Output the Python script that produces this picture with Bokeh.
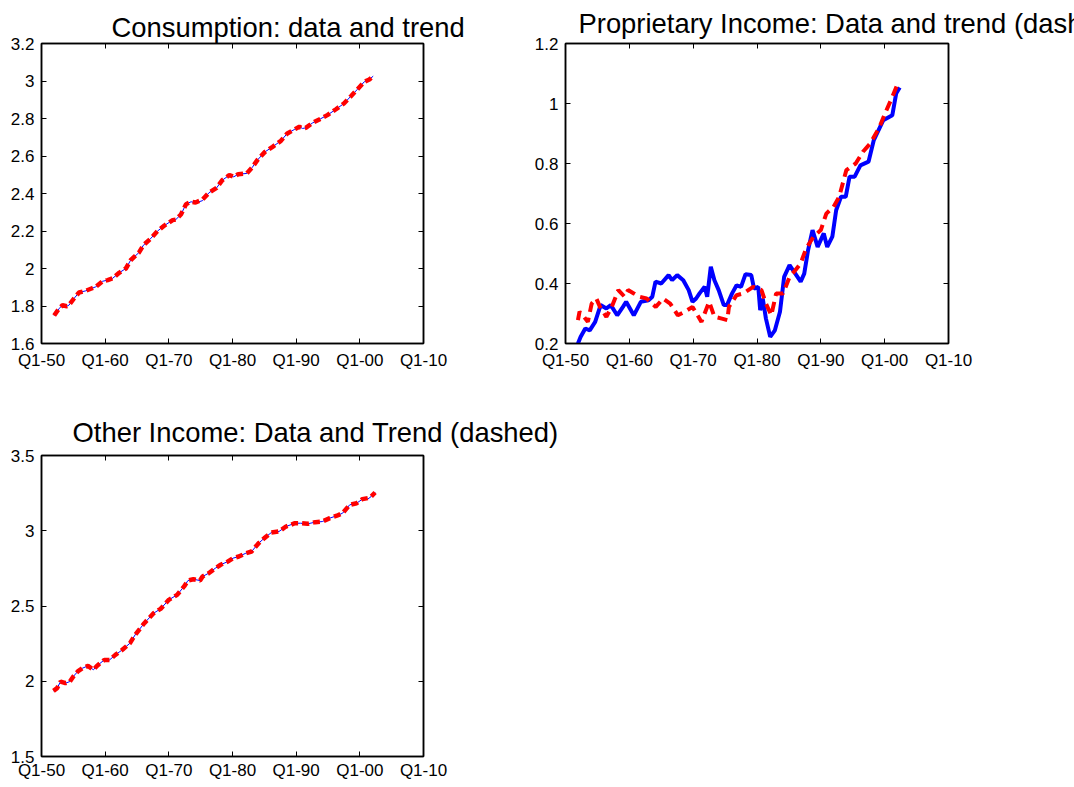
from bokeh.plotting import figure
from bokeh.layouts import row, column
from bokeh.models import FixedTicker, LinearAxis, CustomJSTickFormatter
from bokeh.embed import file_html
from bokeh.resources import INLINE

FONT = "Liberation Sans"

# ---------------- data ----------------
x_ticks = [1950, 1960, 1970, 1980, 1990, 2000, 2010]
x_tick_labels = ["Q1-50", "Q1-60", "Q1-70", "Q1-80", "Q1-90", "Q1-00", "Q1-10"]

# Consumption
cons_year = [1951.99, 1952.77, 1953.3, 1953.98, 1954.3, 1955.1, 1955.9, 1956.96, 1957.75, 1958.5,
             1959.6, 1960.4, 1961.15, 1962.2, 1963.25, 1964.0, 1965.3, 1966.0, 1967.1, 1968.2,
             1969.3, 1970.6, 1971.1, 1971.9, 1972.7, 1973.5, 1974.2, 1975.3, 1976.3, 1977.5,
             1978.4, 1979.5, 1980.2, 1980.9, 1982.25, 1983.1, 1983.9, 1985.1, 1986.3, 1987.6,
             1988.6, 1989.7, 1990.5, 1991.0, 1991.5, 1992.6, 1993.8, 1994.9, 1996.2, 1997.5,
             1998.6, 1999.6, 2000.7, 2001.5, 2002.1]
cons_data = [1.749, 1.787, 1.804, 1.799, 1.804, 1.84, 1.872, 1.881, 1.892, 1.902,
             1.932, 1.938, 1.947, 1.977, 2.0, 2.044, 2.085, 2.124, 2.158, 2.199,
             2.229, 2.258, 2.261, 2.288, 2.343, 2.356, 2.35, 2.362, 2.404, 2.43,
             2.471, 2.498, 2.489, 2.503, 2.507, 2.539, 2.578, 2.622, 2.649, 2.681,
             2.72, 2.741, 2.756, 2.747, 2.75, 2.777, 2.798, 2.818, 2.848, 2.88,
             2.919, 2.955, 2.996, 3.008, 3.026]
cons_trend = [1.749, 1.787, 1.804, 1.799, 1.804, 1.84, 1.872, 1.881, 1.892, 1.902,
              1.932, 1.938, 1.947, 1.977, 2.0, 2.044, 2.085, 2.124, 2.158, 2.199,
              2.229, 2.258, 2.261, 2.288, 2.343, 2.356, 2.352, 2.368, 2.404, 2.43,
              2.471, 2.498, 2.489, 2.503, 2.507, 2.539, 2.578, 2.622, 2.649, 2.681,
              2.72, 2.741, 2.756, 2.747, 2.75, 2.777, 2.798, 2.818, 2.848, 2.88,
              2.919, 2.955, 2.996, 3.008, 3.026]
cons_y_ticks = [1.6, 1.8, 2.0, 2.2, 2.4, 2.6, 2.8, 3.0, 3.2]
cons_y_labels = ["1.6", "1.8", "2", "2.2", "2.4", "2.6", "2.8", "3", "3.2"]

# Proprietary income
prop_data_year = [1951.95, 1952.36, 1953.1, 1953.8, 1954.65, 1955.5, 1956.4, 1957.1, 1958.1, 1959.0,
                  1959.5, 1960.7, 1961.8, 1963.0, 1963.6, 1964.1, 1965.0, 1966.15, 1966.7, 1967.5,
                  1968.45, 1969.3, 1969.9, 1970.46, 1971.0, 1971.8, 1972.2, 1972.76, 1973.33, 1974.0,
                  1974.8, 1975.3, 1976.1, 1976.8, 1977.5, 1978.2, 1979.1, 1979.54, 1980.2, 1980.5,
                  1980.9, 1981.4, 1982.07, 1982.8, 1983.6, 1984.25, 1985.1, 1986.0, 1986.84, 1987.4,
                  1988.0, 1988.7, 1989.5, 1990.46, 1991.0, 1991.8, 1992.4, 1993.16, 1993.9, 1994.5,
                  1995.3, 1996.2, 1997.47, 1998.3, 1999.77, 2001.2, 2001.8, 2002.36]
prop_data = [0.2, 0.222, 0.25, 0.244, 0.272, 0.328, 0.317, 0.328, 0.294, 0.322,
             0.339, 0.294, 0.339, 0.344, 0.356, 0.406, 0.4, 0.428, 0.411, 0.428,
             0.411, 0.378, 0.339, 0.35, 0.367, 0.389, 0.356, 0.456, 0.411, 0.378,
             0.328, 0.328, 0.367, 0.394, 0.389, 0.431, 0.428, 0.383, 0.389, 0.311,
             0.35, 0.283, 0.222, 0.244, 0.306, 0.422, 0.461, 0.433, 0.406, 0.433,
             0.511, 0.578, 0.522, 0.567, 0.522, 0.556, 0.644, 0.689, 0.689, 0.756,
             0.756, 0.794, 0.806, 0.878, 0.944, 0.961, 1.033, 1.053]
prop_trend_year = [1951.95, 1952.2, 1952.9, 1953.5, 1954.1, 1954.83, 1955.4, 1956.4, 1957.24, 1958.28,
                   1959.25, 1959.8, 1960.7, 1961.55, 1962.7, 1964.14, 1965.3, 1966.4, 1967.6, 1968.7,
                   1969.9, 1971.3, 1972.5, 1973.33, 1974.5, 1975.35, 1975.6, 1976.8, 1977.9, 1979.4,
                   1980.7, 1981.4, 1982.24, 1983.0, 1984.1, 1985.1, 1986.0, 1986.84, 1987.7, 1988.85,
                   1990.0, 1990.86, 1992.0, 1992.87, 1994.0, 1995.46, 1996.6, 1997.76, 1999.2, 2000.06,
                   2001.2, 2001.95, 2002.36]
prop_trend = [0.278, 0.306, 0.289, 0.272, 0.333, 0.35, 0.322, 0.289, 0.322, 0.378,
              0.356, 0.378, 0.367, 0.356, 0.35, 0.322, 0.35, 0.333, 0.294, 0.306,
              0.322, 0.272, 0.339, 0.289, 0.283, 0.278, 0.322, 0.361, 0.367, 0.389,
              0.378, 0.333, 0.294, 0.367, 0.367, 0.422, 0.444, 0.467, 0.517, 0.556,
              0.578, 0.633, 0.656, 0.689, 0.778, 0.8, 0.839, 0.867, 0.922, 0.967,
              1.022, 1.061, 1.05]
prop_y_ticks = [0.2, 0.4, 0.6, 0.8, 1.0, 1.2]
prop_y_labels = ["0.2", "0.4", "0.6", "0.8", "1", "1.2"]

# Other income
oth_year = [1951.88, 1952.45, 1953.0, 1953.77, 1954.45, 1955.0, 1955.7, 1956.45, 1957.3, 1958.16,
            1958.7, 1959.87, 1960.7, 1961.6, 1962.7, 1963.9, 1964.7, 1966.15, 1967.6, 1968.7,
            1970.0, 1971.3, 1972.4, 1973.0, 1973.86, 1974.9, 1975.3, 1976.26, 1977.3, 1978.14,
            1979.3, 1980.1, 1981.0, 1982.1, 1983.0, 1984.1, 1985.0, 1986.1, 1987.3, 1988.4,
            1989.8, 1990.7, 1991.8, 1993.0, 1994.1, 1995.3, 1996.4, 1997.3, 1998.4, 1999.5,
            2000.4, 2001.25, 2001.8, 2002.4]
oth_data = [1.936, 1.954, 1.998, 1.987, 1.998, 2.032, 2.065, 2.087, 2.102, 2.076,
            2.102, 2.142, 2.142, 2.175, 2.209, 2.253, 2.308, 2.386, 2.452, 2.481,
            2.541, 2.574, 2.63, 2.669, 2.678, 2.669, 2.696, 2.718, 2.751, 2.774,
            2.796, 2.818, 2.829, 2.851, 2.862, 2.917, 2.951, 2.988, 2.995, 3.028,
            3.05, 3.05, 3.046, 3.057, 3.061, 3.084, 3.1, 3.117, 3.172, 3.183,
            3.21, 3.21, 3.228, 3.254]
oth_trend = [1.936, 1.954, 1.998, 1.987, 1.998, 2.032, 2.065, 2.087, 2.102, 2.076,
             2.102, 2.142, 2.142, 2.175, 2.209, 2.253, 2.308, 2.386, 2.452, 2.481,
             2.541, 2.574, 2.63, 2.669, 2.678, 2.669, 2.696, 2.718, 2.751, 2.774,
             2.796, 2.818, 2.829, 2.851, 2.862, 2.917, 2.951, 2.988, 2.995, 3.028,
             3.05, 3.05, 3.046, 3.057, 3.061, 3.084, 3.1, 3.117, 3.172, 3.183,
             3.21, 3.217, 3.228, 3.254]
oth_y_ticks = [1.5, 2.0, 2.5, 3.0, 3.5]
oth_y_labels = ["1.5", "2", "2.5", "3", "3.5"]

titles = ["Consumption: data and trend",
          "Proprietary Income: Data and trend (dashed)",
          "Other Income: Data and Trend (dashed)"]


def make_fig(width, height, bl, br, bt, bb, ylo, yhi, yticks, ylabels, xstandoff,
             title, title_offset, title_standoff):
    p = figure(width=width, height=height, output_backend="svg", toolbar_location=None,
               x_range=(1950, 2010), y_range=(ylo, yhi),
               min_border_left=bl, min_border_right=br, min_border_top=bt, min_border_bottom=bb)
    p.xgrid.visible = False
    p.ygrid.visible = False
    p.outline_line_color = "black"
    p.outline_line_width = 1.5
    p.background_fill_color = "white"
    p.border_fill_color = "white"
    p.title.text = title
    p.title.align = "left"
    p.title.offset = title_offset
    p.title.standoff = title_standoff
    p.title.text_font = FONT
    p.title.text_font_size = "27.4px"
    p.title.text_font_style = "normal"
    p.title.text_color = "black"
    for ax, ticks, labels in ((p.xaxis[0], x_ticks, x_tick_labels), (p.yaxis[0], yticks, ylabels)):
        ax.ticker = FixedTicker(ticks=ticks)
        ax.major_label_overrides = dict(zip(ticks, labels))
        ax.minor_tick_line_color = None
        ax.major_tick_in = 5
        ax.major_tick_out = 0
        ax.axis_line_width = 1.5
        ax.axis_line_color = "black"
        ax.major_tick_line_color = "black"
        ax.major_label_text_font = FONT
        ax.major_label_text_font_size = "17px"
        ax.major_label_text_color = "black"
    p.xaxis[0].major_label_standoff = xstandoff
    p.yaxis[0].major_label_standoff = 7
    for ticks, loc in ((x_ticks, "above"), (yticks, "right")):
        ax = LinearAxis(ticker=FixedTicker(ticks=ticks),
                        formatter=CustomJSTickFormatter(code="return ''"),
                        major_tick_in=5, major_tick_out=0, minor_tick_line_color=None,
                        major_label_standoff=0, major_label_text_font_size="0px",
                        axis_line_width=1.5)
        p.add_layout(ax, loc)
    return p


# Consumption
pa = make_fig(520, 400, 41, 97, 43, 56, 1.6, 3.2, cons_y_ticks, cons_y_labels, 7,
              titles[0], 70, 1)
pa.line(cons_year, cons_data, line_color="blue", line_width=1)
pa.line(cons_year, cons_trend, line_color="red", line_width=4.5, line_dash="7 4")

# Proprietary income
pb = make_fig(554, 400, 45, 126, 43, 57, 0.2, 1.2, prop_y_ticks, prop_y_labels, 7,
              titles[1], 13, 10)
pb.line(prop_data_year, prop_data, line_color="blue", line_width=4)
pb.line(prop_trend_year, prop_trend, line_color="red", line_width=4, line_dash="10 6")

# Other income
pc = make_fig(600, 386, 41, 177, 55, 30, 1.5, 3.5, oth_y_ticks, oth_y_labels, 4,
              titles[2], 31, 16)
pc.line(oth_year, oth_data, line_color="blue", line_width=1)
pc.line(oth_year, oth_trend, line_color="red", line_width=4.5, line_dash="7 4")

layout = column(row(pa, pb), pc)
open("out.html", "w").write(file_html(layout, INLINE))
